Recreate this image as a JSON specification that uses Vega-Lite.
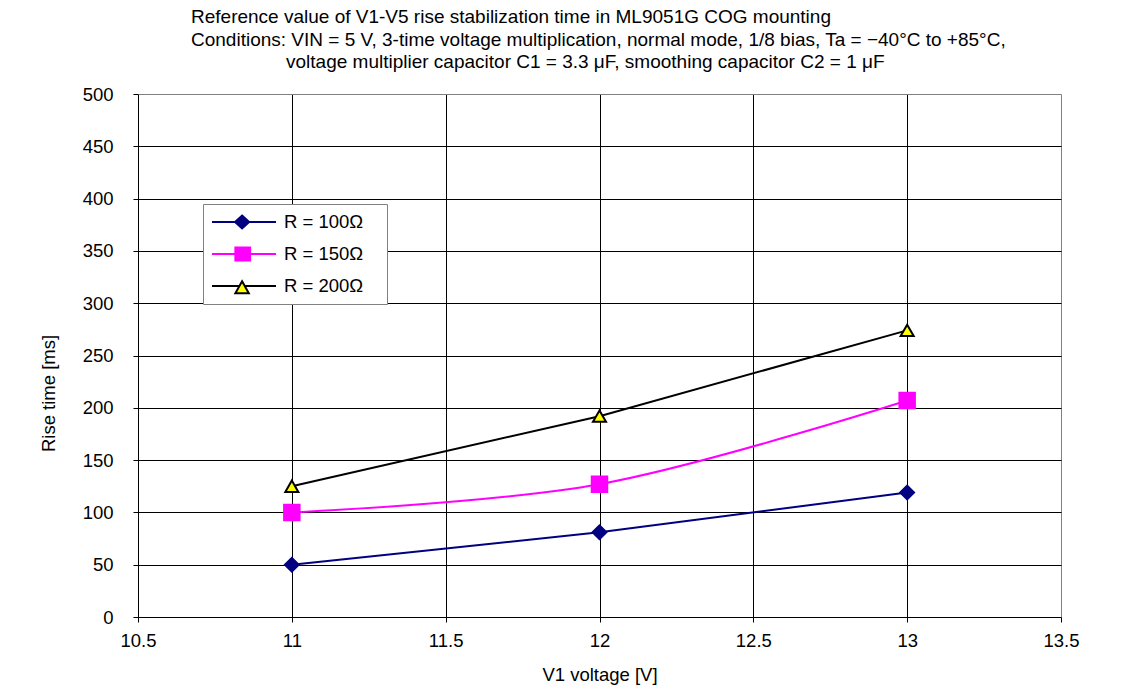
{
  "$schema": "https://vega.github.io/schema/vega-lite/v6.json",
  "width": 923,
  "height": 523,
  "autosize": "none",
  "padding": {"left": 138, "top": 94, "right": 87, "bottom": 81},
  "background": "white",
  "config": {
    "font": "Liberation Sans",
    "view": {"stroke": null},
    "axis": {
      "grid": true, "gridOpacity": 1, "gridWidth": 1,
      "domain": false, "tickColor": "black", "tickSize": 5, "tickWidth": 1,
      "labelFont": "Liberation Sans", "labelFontSize": 18.5, "labelColor": "black", "labelFlush": false,
      "titleFont": "Liberation Sans", "titleFontSize": 18.5, "titleFontWeight": "normal", "titleColor": "black"
    },
    "legend": {
      "orient": "none", "legendX": 65, "legendY": 110, "direction": "vertical",
      "symbolSize": 4096, "clipHeight": 20, "symbolStrokeWidth": 2, "symbolOpacity": 1,
      "labelFontSize": 18.5, "labelFont": "Liberation Sans", "labelColor": "black",
      "labelOffset": 7, "rowPadding": 12, "padding": 8, "strokeColor": "#808080", "fillColor": "white"
    }
  },
  "title": {
    "text": [
      "Reference value of V1-V5 rise stabilization time in ML9051G COG mounting",
      "Conditions: VIN = 5 V, 3-time voltage multiplication, normal mode, 1/8 bias, Ta = −40°C to +85°C,",
      "\u200b\u00a0\u00a0\u00a0\u00a0\u00a0\u00a0\u00a0\u00a0\u00a0\u00a0\u00a0\u00a0\u00a0\u00a0\u00a0\u00a0\u00a0\u00a0voltage multiplier capacitor C1 = 3.3 μF, smoothing capacitor C2 = 1 μF"
    ],
    "anchor": "start", "frame": "group", "dx": 53, "offset": 13,
    "font": "Liberation Sans", "fontSize": 19, "fontWeight": "normal", "color": "black", "lineHeight": 22.5
  },
  "data": {
    "values": [
      {"V": 11, "t": 50, "series": "R = 100Ω"},
      {"V": 12, "t": 81, "series": "R = 100Ω"},
      {"V": 13, "t": 119, "series": "R = 100Ω"},
      {"V": 11, "t": 100, "series": "R = 150Ω"},
      {"V": 12, "t": 127, "series": "R = 150Ω"},
      {"V": 13, "t": 207, "series": "R = 150Ω"},
      {"V": 11, "t": 125, "series": "R = 200Ω"},
      {"V": 12, "t": 192, "series": "R = 200Ω"},
      {"V": 13, "t": 274, "series": "R = 200Ω"}
    ]
  },
  "encoding": {
    "x": {"field": "V", "type": "quantitative", "title": "V1 voltage [V]",
      "scale": {"domain": [10.5, 13.5], "nice": false, "zero": false},
      "axis": {"values": [10.5, 11, 11.5, 12, 12.5, 13, 13.5], "format": "~g", "labelPadding": 9, "titleY": 57, "titleBaseline": "middle",
        "gridColor": {"condition": {"test": "datum.value >= 13.5", "value": "#808080"}, "value": "black"}}},
    "y": {"field": "t", "type": "quantitative", "title": "Rise time [ms]",
      "scale": {"domain": [0, 500], "nice": false},
      "axis": {"values": [0, 50, 100, 150, 200, 250, 300, 350, 400, 450, 500], "labelPadding": 20, "titleX": -90, "titleY": 299, "titleBaseline": "middle",
        "gridColor": {"condition": {"test": "datum.value >= 500", "value": "#808080"}, "value": "black"}}}
  },
  "layer": [
    {
      "transform": [{"filter": "datum.series !== 'R = 150Ω'"}],
      "mark": {"type": "line", "strokeWidth": 2},
      "encoding": {
        "detail": {"field": "series", "type": "nominal"},
        "stroke": {"condition": {"test": "datum.series === 'R = 100Ω'", "value": "#000080"}, "value": "#000000"}
      }
    },
    {
      "transform": [{"filter": "datum.series === 'R = 150Ω'"}],
      "mark": {"type": "line", "strokeWidth": 2, "interpolate": "catmull-rom", "stroke": "#FF00FF"},
      "encoding": {
        "detail": {"field": "series", "type": "nominal"}
      }
    },
    {
      "mark": {"type": "point", "filled": true, "opacity": 1, "strokeWidth": 2},
      "encoding": {
        "stroke": {"condition": [{"test": "datum.series === 'R = 100Ω'", "value": "#000080"}, {"test": "datum.series === 'R = 150Ω'", "value": "#FF00FF"}], "value": "#000000"},
        "fill": {"condition": [{"test": "datum.series === 'R = 100Ω'", "value": "#000080"}, {"test": "datum.series === 'R = 150Ω'", "value": "#FF00FF"}], "value": "#FFFF00"},
        "size": {"condition": [{"test": "datum.series === 'R = 100Ω'", "value": 190}, {"test": "datum.series === 'R = 150Ω'", "value": 240}], "value": 170},
        "shape": {"condition": [{"test": "datum.series === 'R = 100Ω'", "value": "diamond"}, {"test": "datum.series === 'R = 150Ω'", "value": "square"}], "value": "triangle-up"}
      }
    },
    {
      "transform": [{"filter": "datum.t < 0"}],
      "mark": {"type": "point", "filled": true, "opacity": 1, "strokeWidth": 2},
      "encoding": {
        "shape": {"field": "series", "type": "nominal", "legend": {"title": null, "labelExpr": "datum.label + '\u00a0\u00a0\u00a0\u200b'"},
          "scale": {"domain": ["R = 100Ω", "R = 150Ω", "R = 200Ω"],
            "range": [
              "M-1,0H1M-0.06,-0.2L0.16,0L-0.06,0.2L-0.28,0Z",
              "M-1,0H1M-0.27,-0.2H0.19V0.2H-0.27Z",
              "M-1,0H-0.14M0.02,0H1M-0.06,-0.15L0.15,0.23L-0.27,0.23Z"
            ]}},
        "fill": {"field": "series", "type": "nominal", "legend": {"title": null, "labelExpr": "datum.label + '\u00a0\u00a0\u00a0\u200b'"},
          "scale": {"domain": ["R = 100Ω", "R = 150Ω", "R = 200Ω"], "range": ["#000080", "#FF00FF", "#FFFF00"]}},
        "stroke": {"field": "series", "type": "nominal", "legend": {"title": null, "labelExpr": "datum.label + '\u00a0\u00a0\u00a0\u200b'"},
          "scale": {"domain": ["R = 100Ω", "R = 150Ω", "R = 200Ω"], "range": ["#000080", "#FF00FF", "#000000"]}}
      }
    },
    {
      "data": {"values": [{}]},
      "mark": {"type": "rect", "fill": "white", "stroke": "black", "strokeWidth": 2},
      "encoding": {
        "x": {"datum": 10.724, "type": "quantitative"},
        "x2": {"datum": 12.41},
        "y": {"datum": 449, "type": "quantitative"},
        "y2": {"datum": 412}
      }
    },
    {
      "data": {"values": [{}]},
      "mark": {"type": "text", "align": "left", "baseline": "middle", "fontSize": 19, "font": "Liberation Sans", "color": "black"},
      "encoding": {
        "x": {"datum": 10.748, "type": "quantitative"},
        "y": {"datum": 430.5, "type": "quantitative"},
        "text": {"value": "Parameter: trace resistance external to COG-mounted chip"}
      }
    }
  ]
}
